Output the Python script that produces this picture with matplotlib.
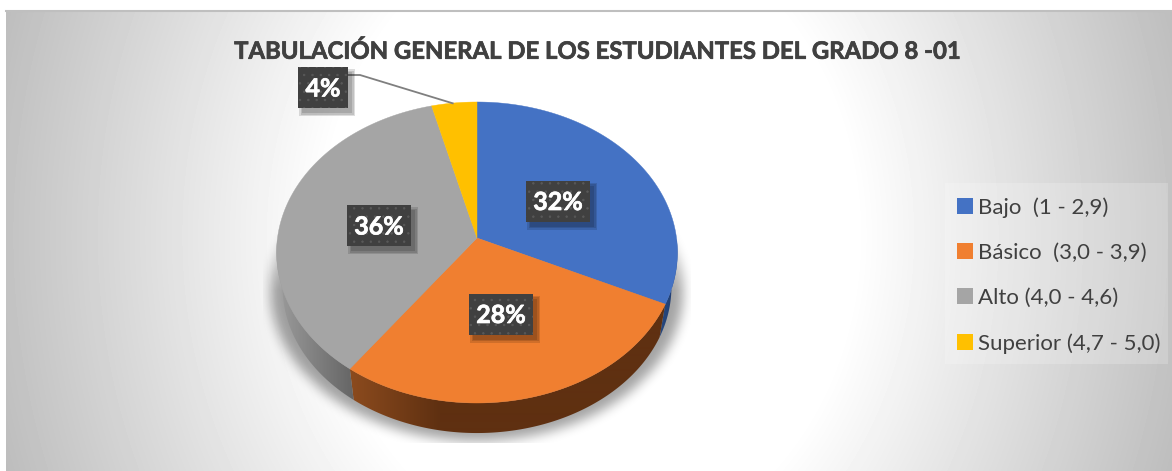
"""Tabulacion 8-01: 3D-look pie drawn on a pixel canvas."""
import numpy as np
import matplotlib
matplotlib.use("Agg")
import matplotlib.pyplot as plt
import matplotlib.patheffects as pe
from matplotlib.patches import Polygon, Rectangle, Patch

plt.rcParams.update({"font.family": ["Lato", "DejaVu Sans"], "hatch.linewidth": 0.5})

title = "TABULACIÓN GENERAL DE LOS ESTUDIANTES DEL GRADO 8 -01"
categories = ["Bajo  (1 - 2,9)", "Básico  (3,0 - 3,9)", "Alto (4,0 - 4,6)", "Superior (4,7 - 5,0)"]
values = [32, 28, 36, 4]
labels = ["32%", "28%", "36%", "4%"]
colors = ["#4472c4", "#f07f30", "#a5a5a5", "#ffc000"]

W, H = 1172, 471
CX, CY, RX, RY, K, DEPTH, SHRINK = 477, 238, 199.5, 149.1, 0.0963, 35, 0.97
label_xy = [(558, 201), (501, 314), (379, 225.5), (323, 87.5)]
label_w = [64, 64, 64, 50]

def project(theta):
    # clockwise from 12 o'clock, with a bit of perspective on the tilted disc
    u, v = np.sin(theta), np.cos(theta)
    d = 1 + K * v
    return CX + RX * u / d, CY - RY * v / d

def lower(px, py):
    # same outline on the underside of the pie, a bit smaller
    return CX + (px - CX) * SHRINK, CY + DEPTH + (py - CY) * SHRINK

fig = plt.figure(figsize=(W / 100, H / 100), dpi=100)
ax = fig.add_axes([0, 0, 1, 1])

# background: soft radial gradient, white over the middle
X0, Y0 = 6, 10
yy, xx = np.mgrid[0:H, 0:W]
dist = np.hypot((xx - 590) / 590, (yy - 235) / 700)
bg = 1.0 - 0.24 * np.clip((dist - 0.45) / 0.55, 0, None)
ax.imshow(bg, cmap="gray", vmin=0, vmax=1, extent=(0, W, H, 0), aspect="auto", zorder=0)
ax.add_patch(Rectangle((0, 0), X0, H, fc="white", ec="none", zorder=0.5))
ax.add_patch(Rectangle((0, 0), W, Y0, fc="white", ec="none", zorder=0.5))
ax.plot([X0, W], [Y0 + 0.5, Y0 + 0.5], color="#bfbfbf", lw=1.5, zorder=0.6)

# pie outlines
cum = np.concatenate([[0], np.cumsum(values)]) / np.sum(values) * 2 * np.pi
full = np.linspace(0, 2 * np.pi, 400)
ox, oy = project(full)

# soft shadow under the pie, cut off by its rectangle as in the original
sil = Polygon(np.c_[CX + (ox - CX) * 1.03, oy + DEPTH + 3])
inside = sil.get_path().contains_points(np.c_[xx.ravel() + 0.5, yy.ravel() + 0.5]).reshape(H, W)
mask = inside.astype(float)
kern = np.ones(11) / 11
for _ in range(3):
    mask = np.apply_along_axis(lambda r: np.convolve(r, kern, mode="same"), 1, mask)
    mask = np.apply_along_axis(lambda c: np.convolve(c, kern, mode="same"), 0, mask)
rgba = np.zeros((H, W, 4))
rgba[..., 3] = mask * 0.36 * np.clip((yy - 200) / 90, 0, 1)
rgba[:, :263, 3] = 0
rgba[:, 691:, 3] = 0
rgba[443:, :, 3] = 0
ax.imshow(rgba, extent=(0, W, H, 0), aspect="auto", zorder=1)

# side wall, gradient per slice
side_stops = [
    ([640, 677], ["#2f558f", "#1f3c70"]),
    ([350, 440], ["#8c4b1e", "#5f3011"]),
    ([276, 352], ["#9c9c9c", "#666666"]),
    ([430, 480], ["#a08000", "#a08000"]),
]
for i in range(len(values)):
    t = np.linspace(cum[i], cum[i + 1], 200)
    t = t[(t > np.pi / 2) & (t < 3 * np.pi / 2)]
    if len(t) < 2:
        continue
    px, py = project(t)
    bx, by = lower(px, py)
    poly = Polygon(np.r_[np.c_[px, py], np.c_[bx[::-1], by[::-1]]], fc="none", ec="none", zorder=2)
    ax.add_patch(poly)
    (x_a, x_b), (c_a, c_b) = side_stops[i]
    c_a, c_b = matplotlib.colors.to_rgb(c_a), matplotlib.colors.to_rgb(c_b)
    f = np.clip((np.arange(W) - x_a) / (x_b - x_a), 0, 1)[None, :, None]
    grad = np.array(c_a)[None, None, :] * (1 - f) + np.array(c_b)[None, None, :] * f
    im = ax.imshow(grad, extent=(0, W, H, 0), aspect="auto", zorder=2, interpolation="bilinear")
    im.set_clip_path(poly)

# top face
for i, c in enumerate(colors):
    t = np.linspace(cum[i], cum[i + 1], 200)
    px, py = project(t)
    ax.add_patch(Polygon(np.r_[[[CX, CY]], np.c_[px, py]], fc=c, ec=c, lw=0.3, zorder=3))

# data labels, dark dotted boxes with a small blurry shadow
for lab, (x, y), w in zip(labels, label_xy, label_w):
    h = 41
    for grow in (3, 1.5, 0):
        ax.add_patch(Rectangle((x - w / 2 + 4 - grow, y - h / 2 + 5 - grow), w + 2 * grow, h + 2 * grow,
                               fc="black", ec="none", alpha=0.13, zorder=4))
    ax.add_patch(Rectangle((x - w / 2, y - h / 2), w, h, fc="#404040", ec="#595959", lw=0, hatch="..", zorder=5))
    ax.text(x, y + 1.5, lab, color="white", fontsize=18, weight="bold", ha="center", va="center", zorder=6,
            path_effects=[pe.withStroke(linewidth=0.5, foreground="white")])

ax.plot([452.7, 360, 348], [103.3, 75, 75], color="#7f7f7f", lw=1.3, zorder=3.5)

ax.text(596, 51, title, color="#404040", fontsize=17.2, weight="bold", ha="center", va="center", zorder=6,
        path_effects=[pe.withStroke(linewidth=0.5, foreground="#404040")])

# legend panel is a bit wider than the entries
ax.add_patch(Rectangle((945, 183), 223, 181, fc="white", ec="none", alpha=0.2, zorder=5.5))
handles = [Patch(fc=c, ec="none", label=n) for c, n in zip(colors, categories)]
leg = ax.legend(handles=handles, loc="upper left", bbox_to_anchor=(945, 185), bbox_transform=ax.transData,
                frameon=False, fontsize=16, labelcolor="#404040",
                borderpad=0.55, labelspacing=1.13, handlelength=0.7, handleheight=0.7, handletextpad=0.22,
                borderaxespad=0)
leg.set_zorder(6)

ax.set_xlim(0, W); ax.set_ylim(H, 0); ax.axis("off")
fig.savefig("out.png", dpi=100)
